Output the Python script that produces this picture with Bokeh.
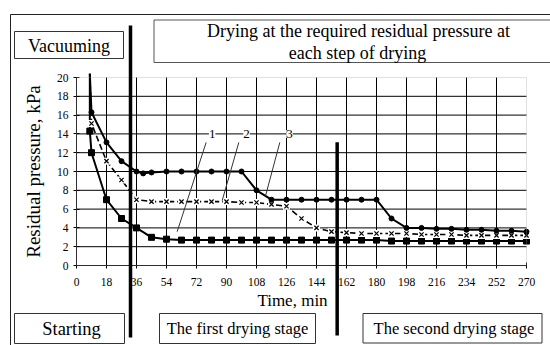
from bokeh.plotting import figure
from bokeh.models import Range1d, FixedTicker, BoxAnnotation, Label, Arrow, LinearAxis
from bokeh.embed import file_html
from bokeh.resources import INLINE

# ---------------- data ----------------
x_ticks = [0, 18, 36, 54, 72, 90, 108, 126, 144, 162, 180, 198, 216, 234, 252, 270]
y_ticks = [0, 2, 4, 6, 8, 10, 12, 14, 16, 18, 20]

time_1 = [8, 8, 9, 18, 27, 36, 45, 54, 63, 72, 81, 90, 99, 108, 117, 126, 135, 144,
          153, 162, 171, 180, 189, 198, 207, 216, 225, 234, 243, 252, 261, 270]
pressure_1 = [20.4, 14.3, 12.0, 7.0, 5.0, 4.0, 3.0, 2.8, 2.7, 2.7, 2.7, 2.7, 2.7, 2.7, 2.7, 2.7,
              2.7, 2.7, 2.7, 2.7, 2.7, 2.7, 2.6, 2.6, 2.6, 2.6, 2.6, 2.6, 2.6, 2.6, 2.6, 2.6]

time_2 = [8, 9, 18, 27, 36, 45, 54, 63, 72, 81, 90, 99, 108, 117, 126, 135, 144, 153,
          162, 171, 180, 189, 198, 207, 216, 225, 234, 243, 252, 261, 270]
pressure_2 = [20.4, 15.1, 11.1, 9.1, 7.0, 6.8, 6.8, 6.8, 6.8, 6.8, 6.8, 6.7, 6.7, 6.5, 6.3,
              5.0, 4.0, 3.6, 3.5, 3.4, 3.4, 3.4, 3.4, 3.3, 3.3, 3.3, 3.2, 3.2, 3.2, 3.2, 3.2]

time_3 = [8, 9, 18, 27, 36, 40, 45, 54, 63, 72, 81, 90, 99, 108, 117, 126, 135, 144, 153,
          162, 171, 180, 189, 198, 207, 216, 225, 234, 243, 252, 261, 270]
pressure_3 = [20.4, 16.3, 13.1, 11.1, 10.0, 9.8, 9.9, 10.0, 10.0, 10.0, 10.0, 10.0, 10.0, 8.0,
              7.0, 7.0, 7.0, 7.0, 7.0, 7.0, 7.0, 7.0, 5.0, 4.0, 4.0, 3.9, 3.9, 3.8, 3.8, 3.7, 3.7, 3.6]

curve_names = ["1", "2", "3"]
# numbered callouts (time, pressure)
callout_label_t = [81.4, 102.0, 127.8]
callout_top_t = [77.8, 97.4, 122.0]
callout_end_t = [60.4, 87.4, 113.4]
callout_end_p = [3.6, 6.9, 7.4]
callout_p = 14.0
callout_top_p = 13.1

# stage boundaries (time, min)
stage_bounds = [32.4, 156.4]

x_min, x_max = 0, 270
y_min, y_max = 0, 20

SERIF = "Liberation Serif"

# ---------------- geometry (page pixels) ----------------
W, H = 550, 345
PX_LEFT, PX_RIGHT = 76, 526      # where time 0 / 270 sit
PX_BOTTOM, PX_TOP = 265, 77      # where pressure 0 / 20 sit

def fx(px):
    return x_min + (px - PX_LEFT) / (PX_RIGHT - PX_LEFT) * (x_max - x_min)

def fy(py):
    return y_min + (PX_BOTTOM - py) / (PX_BOTTOM - PX_TOP) * (y_max - y_min)

p = figure(width=W, height=H, output_backend="svg", toolbar_location=None,
           x_range=Range1d(fx(0), fx(W)), y_range=Range1d(fy(H), fy(0)),
           x_axis_location=None, y_axis_location=None,
           min_border=0, min_border_left=0, min_border_right=0,
           min_border_top=0, min_border_bottom=0)
p.outline_line_color = None
p.background_fill_color = "white"
p.border_fill_color = "white"
p.grid.visible = False

# grid lines restricted to the plotting area
p.segment(x_ticks[1:-1], [y_min] * (len(x_ticks) - 2), x_ticks[1:-1], [y_max] * (len(x_ticks) - 2),
          line_color="black", line_width=1)
p.segment([x_min] * (len(y_ticks) - 2), y_ticks[1:-1], [x_max] * (len(y_ticks) - 2), y_ticks[1:-1],
          line_color="black", line_width=1)
p.add_layout(BoxAnnotation(left=x_min, right=x_max, bottom=y_min, top=y_max, fill_alpha=0,
                           line_color="#9a9a9a", line_width=1))

# axes at fixed locations
xaxis = LinearAxis(fixed_location=y_min, bounds=(x_min, x_max), ticker=FixedTicker(ticks=x_ticks))
yaxis = LinearAxis(fixed_location=x_min, bounds=(y_min, y_max), ticker=FixedTicker(ticks=y_ticks),
                   axis_label="Residual pressure, kPa")
for ax in (xaxis, yaxis):
    ax.axis_line_color = "black"
    ax.axis_line_width = 1
    ax.major_tick_line_color = "black"
    ax.major_tick_in = 3
    ax.major_tick_out = 3
    ax.minor_tick_line_color = None
    ax.major_label_text_font = SERIF
    ax.major_label_text_font_size = "11.5px"
    ax.major_label_text_color = "black"
    ax.axis_label_text_font = SERIF
    ax.axis_label_text_font_style = "normal"
    ax.axis_label_text_color = "black"
yaxis.axis_label_text_font_size = "19px"
xaxis.major_label_standoff = 9
yaxis.major_label_standoff = 5
yaxis.axis_label_standoff = 10
p.add_layout(xaxis, "below")
p.add_layout(yaxis, "left")

# ---------------- curves ----------------
p.line(time_1, pressure_1, line_color="black", line_width=2)
p.scatter(time_1[1:], pressure_1[1:], marker="square", size=6, color="black")

p.line(time_2, pressure_2, line_color="black", line_width=1.6, line_dash="6 3")
p.scatter(time_2[1:], pressure_2[1:], marker="square", size=7, fill_color="white", line_color=None)
p.scatter(time_2[1:], pressure_2[1:], marker="x", size=6, line_color="black", line_width=1.2)

p.line(time_3, pressure_3, line_color="black", line_width=2)
p.scatter(time_3[1:], pressure_3[1:], marker="circle", size=5, color="black")

# callouts
p.segment(callout_top_t, [callout_top_p] * 3, callout_end_t, callout_end_p,
          line_color="#333333", line_width=1)
for name, t in zip(curve_names, callout_label_t):
    p.add_layout(Label(x=t, y=callout_p, text=name, text_align="center", text_baseline="middle",
                       text_font=SERIF, text_font_size="13px", text_color="black",
                       background_fill_color="white"))

# ---------------- layout boxes ----------------
def box(x0, y0, x1, y1, color="#333333", width=1):
    p.add_layout(BoxAnnotation(left=fx(x0), right=fx(x1), top=fy(y0), bottom=fy(y1),
                               fill_alpha=0, line_color=color, line_width=width, line_alpha=1))

def text(cx, cy, s, size="17px"):
    p.add_layout(Label(x=fx(cx), y=fy(cy), text=s, text_align="center", text_baseline="middle",
                       text_font=SERIF, text_font_size=size, text_color="black"))

# x axis title
text(292, 300, "Time, min", "17px")

box(10, 14, 600, 400, color="#222222")
box(14, 31, 123, 58)
text(68.5, 45, "Vacuuming", "18px")
box(153.5, 19.5, 600, 62, color="#555555")
text(358, 30, "Drying at the required residual pressure at", "18px")
text(357, 52, "each step of drying", "18px")
box(14, 313, 124, 343)
text(71, 328, "Starting", "18.5px")
box(159, 313, 315, 343)
text(237, 328, "The first drying stage", "16.5px")
box(362.5, 313, 541.5, 342.5)
text(453.5, 327.5, "The second drying stage", "16.5px")

# stage boundary lines
stage_tops = [fy(25), fy(141.7)]
stage_bottoms = [fy(337), fy(335)]
for t, y0, y1 in zip(stage_bounds, stage_tops, stage_bottoms):
    p.add_layout(Arrow(end=None, x_start=t, y_start=y0, x_end=t, y_end=y1,
                       line_color="black", line_width=3.5))

open("out.html", "w").write(file_html(p, INLINE))
